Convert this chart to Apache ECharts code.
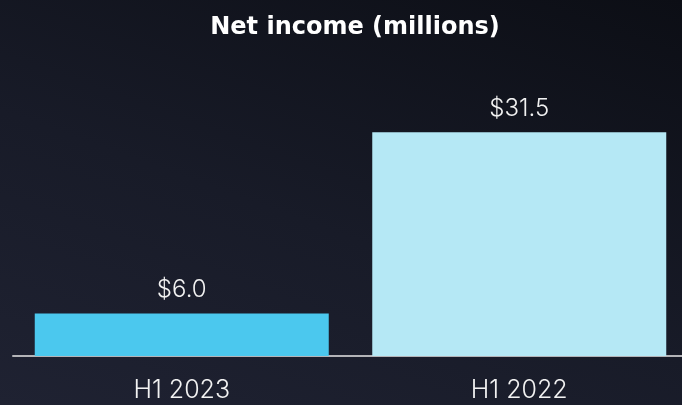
<!DOCTYPE html>
<html>
<head>
<meta charset="utf-8">
<script src="https://cdn.jsdelivr.net/npm/echarts@6/dist/echarts.min.js"></script>
<style>
  html, body { margin: 0; padding: 0; }
  body {
    width: 682px; height: 405px;
    background: linear-gradient(20deg, #1f2232 0%, #181b28 45%, #0c0e15 100%);
  }
  #main { width: 682px; height: 405px; }
</style>
</head>
<body>
<div id="main"></div>
<script>
// chart data
var categories = ['H1 2023', 'H1 2022'];
var netIncome = [6.0, 31.5];
var barColors = ['#4bc8ee', '#b5e8f5'];

var myChart = echarts.init(document.getElementById('main'), null, { renderer: 'canvas' });

var option = {
    backgroundColor: 'transparent',
    title: {
        text: 'Net income (millions)',
        left: 350,
        textAlign: 'center',
        top: 11,
        textStyle: {
            color: '#ffffff',
            fontFamily: 'DejaVu Sans',
            fontWeight: 'bold',
            fontSize: 24
        }
    },
    grid: {
        left: 13,
        right: -6,
        top: 72,
        bottom: 49,
        containLabel: false,
        outerBoundsMode: 'none'
    },
    xAxis: {
        type: 'category',
        data: categories,
        axisTick: { show: false },
        axisLine: {
            show: true,
            lineStyle: { color: '#b4b4b8', width: 2 }
        },
        axisLabel: {
            color: '#f2f2f2',
            fontFamily: 'Inter',
            fontWeight: 300,
            fontSize: 25,
            margin: 22
        }
    },
    yAxis: {
        type: 'value',
        min: 0,
        max: 40,
        show: false,
        splitLine: { show: false }
    },
    series: [{
        type: 'bar',
        barWidth: 294,
        data: netIncome.map(function (v, i) {
            return { value: v, itemStyle: { color: barColors[i] } };
        }),
        label: {
            show: true,
            position: 'top',
            distance: 12,
            formatter: function (p) { return '$' + p.value.toFixed(1); },
            color: '#f2f2f2',
            fontFamily: 'Inter',
            fontWeight: 300,
            fontSize: 24
        }
    }]
};

myChart.setOption(option);
</script>
</body>
</html>
